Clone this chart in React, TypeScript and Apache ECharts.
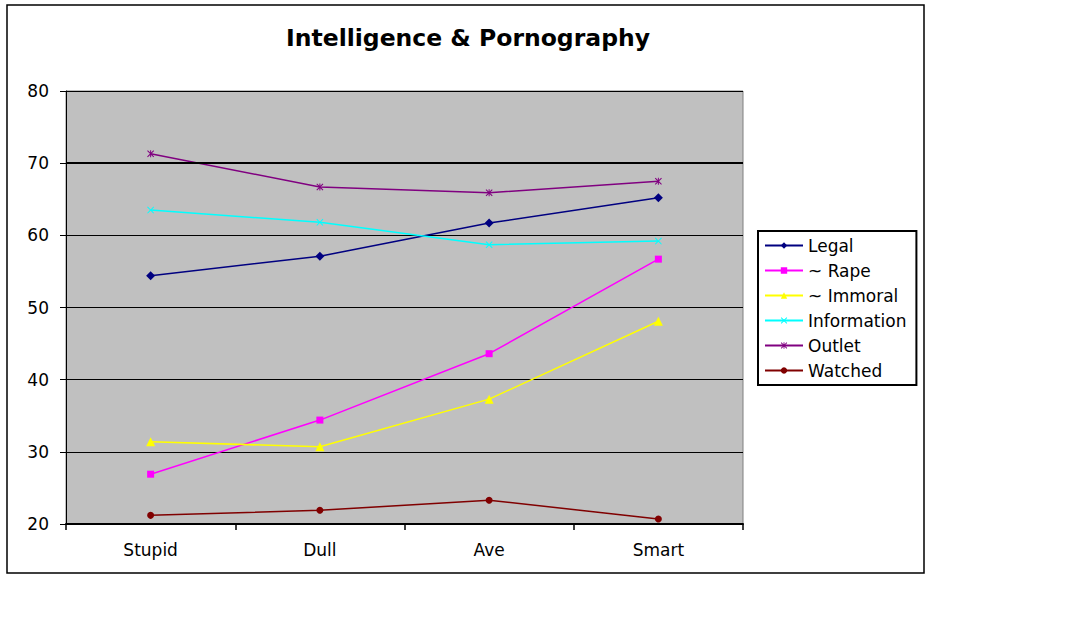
import React, { useEffect, useRef } from "react";
import * as echarts from "echarts";

const categories = ["Stupid", "Dull", "Ave", "Smart"];
const legal = [54.4, 57.1, 61.7, 65.2];
const rape = [26.9, 34.4, 43.6, 56.7];
const immoral = [31.4, 30.7, 37.3, 48.1];
const information = [63.5, 61.8, 58.7, 59.2];
const outlet = [71.3, 66.7, 65.9, 67.5];
const watched = [21.2, 21.9, 23.3, 20.7];

const FONT = "'DejaVu Sans', Verdana, sans-serif";
const X_SYMBOL =
  "path://M0,1 L1,0 L5,4 L9,0 L10,1 L6,5 L10,9 L9,10 L5,6 L1,10 L0,9 L4,5 Z";
const STAR_SYMBOL =
  "path://M0,1 L1,0 L4.3,3.3 L4.3,0 L5.7,0 L5.7,3.3 L9,0 L10,1 L6,5 L10,9 L9,10 L5.7,6.7 L5.7,10 L4.3,10 L4.3,6.7 L1,10 L0,9 L4,5 Z";

export default function App() {
  const ref = useRef<HTMLDivElement>(null);
  useEffect(() => {
    if (!ref.current) return;
    const chart = echarts.init(ref.current, null, { renderer: "svg" });
    const mk = (name: string, data: number[], color: string, symbol: string, size: number, extra: any = {}) => ({
      name,
      type: "line",
      data,
      symbol,
      symbolSize: size,
      color,
      lineStyle: { color, width: 1.5 },
      itemStyle: { color },
      ...extra,
    });
    chart.setOption({
      animation: false,
      backgroundColor: "#ffffff",
      textStyle: { fontFamily: FONT },
      title: {
        text: "Intelligence & Pornography",
        left: 463,
        textAlign: "center",
        top: 21,
        textStyle: { fontFamily: FONT, fontWeight: "bold", fontSize: 23.5, color: "#000" },
      },
      graphic: [
        {
          type: "rect",
          shape: { x: 7, y: 5, width: 917, height: 568 },
          style: { fill: "none", stroke: "#000", lineWidth: 1.5 },
          silent: true,
        },
      ],
      legend: {
        orient: "vertical",
        left: 758,
        top: 231,
        backgroundColor: "#fff",
        borderColor: "#000",
        borderWidth: 2,
        borderRadius: 0,
        padding: [6, 10, 6, 6],
        itemWidth: 38,
        itemHeight: 8,
        itemGap: 8,
        textStyle: { fontFamily: FONT, fontSize: 17, color: "#000", lineHeight: 17 },
        data: ["Legal", "~ Rape", "~ Immoral", "Information", "Outlet", "Watched"],
      },
      grid: {
        left: 66,
        top: 91,
        right: 337,
        bottom: 115,
        show: true,
        backgroundColor: "#c0c0c0",
        borderColor: "#808080",
        borderWidth: 1,
      },
      xAxis: {
        type: "category",
        data: categories,
        boundaryGap: true,
        axisLine: { lineStyle: { color: "#000", width: 2 } },
        axisTick: { show: true, length: 6, lineStyle: { color: "#000", width: 1.5 } },
        axisLabel: { fontFamily: FONT, fontSize: 17, color: "#000", margin: 17 },
        splitLine: { show: false },
      },
      yAxis: {
        type: "value",
        min: 20,
        max: 80,
        interval: 10,
        axisLine: { show: true, lineStyle: { color: "#000", width: 1 } },
        axisTick: { show: true, length: 6, lineStyle: { color: "#000", width: 1 } },
        axisLabel: { fontFamily: FONT, fontSize: 17, color: "#000", margin: 17 },
        splitLine: { show: true, lineStyle: { color: "#000", width: 1 } },
      },
      series: [
        mk("Legal", legal, "#000080", "diamond", 9, {
          markLine: {
            silent: true,
            symbol: "none",
            label: { show: false },
            lineStyle: { color: "#000", width: 2, type: "solid" },
            data: [{ yAxis: 70 }],
          },
        }),
        mk("~ Rape", rape, "#ff00ff", "rect", 7),
        mk("~ Immoral", immoral, "#ffff00", "triangle", 9),
        mk("Information", information, "#00ffff", X_SYMBOL, 7),
        mk("Outlet", outlet, "#800080", STAR_SYMBOL, 7),
        mk("Watched", watched, "#800000", "circle", 7),
      ],
    });
    return () => chart.dispose();
  }, []);
  return (
    <div
      ref={ref}
      style={{ position: "absolute", left: 0, top: 0, width: 1080, height: 639 }}
    />
  );
}
